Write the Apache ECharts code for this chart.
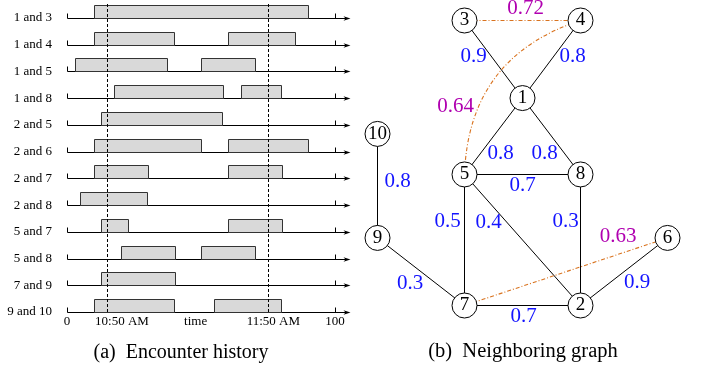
<!DOCTYPE html>
<html>
<head>
<meta charset="utf-8">
<script src="https://cdn.jsdelivr.net/npm/echarts@6/dist/echarts.min.js"></script>
<style>
html, body { margin: 0; background: #fff; }
#main { width: 702px; height: 372px; }
</style>
</head>
<body>
<div id="main"></div>
<script>
// (a) encounter history
var pairs = ['1 and 3', '1 and 4', '1 and 5', '1 and 8', '2 and 5', '2 and 6',
    '2 and 7', '2 and 8', '5 and 7', '5 and 8', '7 and 9', '9 and 10'];
var contacts = [
    [[10, 90]],
    [[10, 40], [60, 85]],
    [[3, 37.5], [50, 70]],
    [[17.5, 58], [65, 80]],
    [[12.5, 57.5]],
    [[10, 50], [60, 90]],
    [[10, 30], [60, 80]],
    [[5, 30]],
    [[12.5, 22.5], [60, 80]],
    [[20, 40], [50, 70]],
    [[12.5, 40]],
    [[10, 40], [55, 80]]
];
var markTimes = [15, 75];
var timeTicks = [0, 20.5, 48, 77, 100];
var timeLabels = ['0', '10:50 AM', 'time', '11:50 AM', '100'];

// (b) neighboring graph
var nodeNames = ['1', '2', '3', '4', '5', '6', '7', '8', '9', '10'];
var nodeX = [1, 2, 0, 2, 0, 3.5, 0, 2, -1.5, -1.5];
var nodeY = [3.53, 0, 4.85, 4.85, 2.23, 1.15, 0, 2.23, 1.15, 2.92];
var edges = [['3', '1'], ['4', '1'], ['1', '5'], ['1', '8'], ['10', '9'], ['5', '8'],
    ['5', '7'], ['5', '2'], ['8', '2'], ['9', '7'], ['2', '6'], ['7', '2']];
var edgeWeights = [0.9, 0.8, 0.8, 0.8, 0.8, 0.7, 0.5, 0.4, 0.3, 0.3, 0.9, 0.7];
var indirectEdges = [['3', '4'], ['4', '5'], ['7', '6']];
var indirectWeights = [0.72, 0.64, 0.63];

// label placement (pixels, relative to edge midpoints)
var edgeLabelShift = [[-20, -3], [21, -3], [7, 17], [-7, 17], [20, -4], [0, 11],
    [-17, -18], [-34, -17], [-15, -18], [-11, 12], [13, 11], [1, 11]];
var indirectLabelShift = [[3, -12], [-67, 9], [52, -35]];

var serif = 'Liberation Serif';
var blue = '#1414ff';
var magenta = '#b000b0';
var orange = '#d9731f';

var chartDom = document.getElementById('main');
var myChart = echarts.init(chartDom);

var barData = [];
contacts.forEach(function (list, row) {
    list.forEach(function (c) {
        barData.push([c[0], c[1], row]);
    });
});

function idx(name) {
    return nodeNames.indexOf(name);
}

var links = edges.map(function (e) {
    return { source: idx(e[0]), target: idx(e[1]) };
});
indirectEdges.forEach(function (e, i) {
    links.push({
        source: idx(e[0]),
        target: idx(e[1]),
        lineStyle: {
            color: orange,
            width: 1.1,
            opacity: 1,
            type: [4, 2, 1, 2],
            curveness: i === 1 ? -0.35 : 0
        }
    });
});

function midLabel(e, w, shift, color) {
    var a = idx(e[0]), b = idx(e[1]);
    return {
        value: [(nodeX[a] + nodeX[b]) / 2, (nodeY[a] + nodeY[b]) / 2],
        label: { formatter: String(w), offset: shift, color: color }
    };
}
var labelData = edges.map(function (e, i) {
    return midLabel(e, edgeWeights[i], edgeLabelShift[i], blue);
}).concat(indirectEdges.map(function (e, i) {
    return midLabel(e, indirectWeights[i], indirectLabelShift[i], magenta);
}));

var option = {
    animation: false,
    backgroundColor: '#fff',
    grid: [
        { left: 67, width: 268, top: 18, height: 294 },
        { left: 377.5, width: 290, top: 20.5, height: 285 }
    ],
    xAxis: [
        {
            gridIndex: 0, type: 'value', min: 0, max: 100,
            axisLine: { show: false }, axisTick: { show: false }, splitLine: { show: false },
            axisLabel: {
                customValues: timeTicks,
                margin: 3,
                lineHeight: 13,
                fontFamily: serif, fontSize: 13, color: '#000',
                formatter: function (v) {
                    var k = timeTicks.indexOf(v);
                    return k < 0 ? '' : timeLabels[k];
                }
            }
        },
        { gridIndex: 1, type: 'value', min: -1.5, max: 3.5, show: false }
    ],
    yAxis: [
        {
            gridIndex: 0, type: 'value', min: 0, max: 11, interval: 1, inverse: true,
            axisLine: { show: false }, axisTick: { show: false }, splitLine: { show: false },
            axisLabel: {
                margin: 15,
                fontFamily: serif, fontSize: 13, color: '#000',
                padding: [0, 0, 9, 0],
                formatter: function (v) { return pairs[v] || ''; }
            }
        },
        { gridIndex: 1, type: 'value', min: 0, max: 4.85, show: false }
    ],
    series: [
        // row axes with arrows
        {
            type: 'custom',
            xAxisIndex: 0, yAxisIndex: 0,
            clip: false,
            z: 1,
            data: pairs.map(function (p, i) { return [0, i]; }),
            renderItem: function (params, api) {
                var p0 = api.coord([0, api.value(1)]);
                var p1 = api.coord([100, api.value(1)]);
                var y = Math.round(p0[1]) + 0.5;
                var x0 = Math.round(p0[0]) + 0.5;
                var x1 = Math.round(p1[0]) + 0.5;
                var tip = x1 + 15;
                var st = { stroke: '#000', lineWidth: 1 };
                return {
                    type: 'group',
                    children: [
                        { type: 'line', shape: { x1: x0, y1: y, x2: tip - 3, y2: y }, style: st },
                        { type: 'line', shape: { x1: x0, y1: y - 5, x2: x0, y2: y }, style: st },
                        { type: 'line', shape: { x1: x1, y1: y - 5, x2: x1, y2: y }, style: st },
                        {
                            type: 'polygon',
                            shape: { points: [[tip, y], [tip - 7, y - 2.3], [tip - 5, y], [tip - 7, y + 2.3]] },
                            style: { fill: '#000' }
                        }
                    ]
                };
            }
        },
        // encounter intervals
        {
            type: 'custom',
            xAxisIndex: 0, yAxisIndex: 0,
            clip: false,
            z: 2,
            encode: { x: [0, 1], y: 2 },
            data: barData,
            renderItem: function (params, api) {
                var p0 = api.coord([api.value(0), api.value(2)]);
                var p1 = api.coord([api.value(1), api.value(2)]);
                var x = Math.round(p0[0]) + 0.5;
                var y = Math.round(p0[1]) + 0.5;
                return {
                    type: 'rect',
                    shape: { x: x, y: y - 13, width: Math.round(p1[0] - p0[0]), height: 13 },
                    style: { fill: '#d9d9d9', stroke: '#333', lineWidth: 1 }
                };
            }
        },
        // 10:50 / 11:50 markers
        {
            type: 'custom',
            xAxisIndex: 0, yAxisIndex: 0,
            clip: false,
            z: 3,
            data: markTimes.map(function (t) { return [t, 0]; }),
            renderItem: function (params, api) {
                var top = api.coord([api.value(0), 0]);
                var bot = api.coord([api.value(0), 11]);
                var x = Math.round(top[0]) + 0.5;
                return {
                    type: 'line',
                    shape: { x1: x, y1: top[1] - 14, x2: x, y2: bot[1] + 2 },
                    style: { stroke: '#000', lineWidth: 1, lineDash: [3, 2] }
                };
            }
        },
        // neighboring graph
        {
            type: 'graph',
            coordinateSystem: 'cartesian2d',
            xAxisIndex: 1, yAxisIndex: 1,
            z: 4,
            symbol: 'circle',
            symbolSize: 25,
            data: nodeNames.map(function (n, i) {
                return { name: n, value: [nodeX[i], nodeY[i]] };
            }),
            links: links,
            itemStyle: { color: '#fff', borderColor: '#000', borderWidth: 1, opacity: 1 },
            label: {
                show: true, position: 'inside',
                fontFamily: serif, fontSize: 19, color: '#000'
            },
            lineStyle: { color: '#000', width: 1, opacity: 1 },
            emphasis: { disabled: true }
        },
        // edge weights
        {
            type: 'scatter',
            xAxisIndex: 1, yAxisIndex: 1,
            z: 5,
            symbolSize: 1,
            itemStyle: { color: 'rgba(0,0,0,0)', opacity: 1 },
            label: {
                show: true, position: 'inside', opacity: 1,
                fontFamily: serif, fontSize: 21
            },
            emphasis: { disabled: true },
            data: labelData
        }
    ],
    graphic: [
        {
            type: 'text', x: 181, y: 353,
            style: {
                text: '(a)  Encounter history', font: '20px "Liberation Serif"',
                fill: '#000', align: 'center', verticalAlign: 'middle'
            }
        },
        {
            type: 'text', x: 523, y: 352,
            style: {
                text: '(b)  Neighboring graph', font: '20.5px "Liberation Serif"',
                fill: '#000', align: 'center', verticalAlign: 'middle'
            }
        }
    ]
};

myChart.setOption(option);
</script>
</body>
</html>
